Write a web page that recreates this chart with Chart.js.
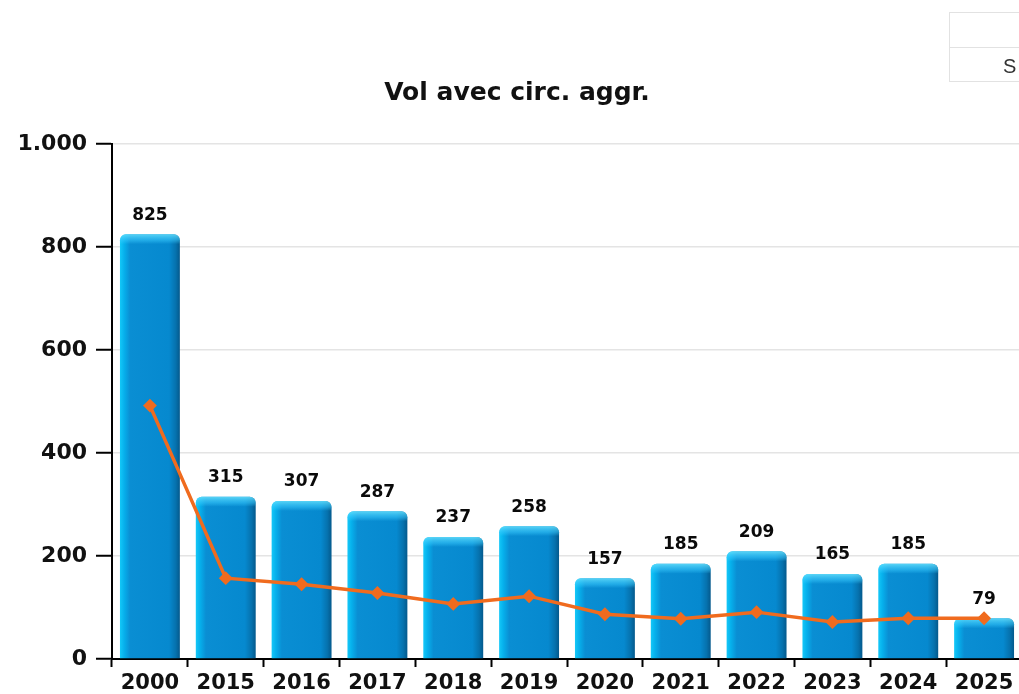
<!DOCTYPE html>
<html>
<head>
<meta charset="utf-8">
<script src="https://cdn.jsdelivr.net/npm/chart.js@4.4.1/dist/chart.umd.min.js"></script>
<style>
  html, body { margin: 0; padding: 0; background: #fff; overflow: hidden; }
  #cadre { position: absolute; left: 0; top: 0; width: 1034px; height: 694px; }
  #boite { position: absolute; left: 949px; top: 12px; width: 200px; border: 1px solid #e2e2e2;
           font-family: "Liberation Sans", Arial, sans-serif; font-size: 20px; color: #333; }
  #boite div { height: 34px; box-sizing: border-box; }
  #boite div + div { border-top: 1px solid #e2e2e2; padding-left: 53px; line-height: 36px; }
</style>
</head>
<body>
<div id="cadre"><canvas id="graficoVol" width="1034" height="694"></canvas></div>
<div id="boite"><div></div><div>S</div></div>
<script>
const annees = ['2000', '2015', '2016', '2017', '2018', '2019', '2020', '2021', '2022', '2023', '2024', '2025']
const nombreVols = [825, 315, 307, 287, 237, 258, 157, 185, 209, 165, 185, 79]
const tendance = [492, 157, 145, 128, 107, 122, 87, 78, 91, 72, 79, 79]
const graduations = [0, 200, 400, 600, 800, 1000]

const police = '"DejaVu Sans", sans-serif'

function degradeBarre(ctx) {
    const chart = ctx.chart
    if (!chart.chartArea) return '#0788cc'
    const echelle = chart.scales.x
    const largeur = (chart.chartArea.width / annees.length) * 0.79
    const x = echelle.getPixelForValue(ctx.dataIndex) - largeur / 2
    const g = chart.ctx.createLinearGradient(x, 0, x + largeur, 0)
    g.addColorStop(0, '#14c8f8')
    g.addColorStop(0.07, '#06b0ec')
    g.addColorStop(0.17, '#0a8ed3')
    g.addColorStop(0.82, '#0689cf')
    g.addColorStop(0.93, '#0672ae')
    g.addColorStop(1, '#04598c')
    return g
}

// reflet clair en haut des barres, puis etiquettes
const decor = {
    id: 'decor',
    afterDatasetDraw(chart, args) {
        if (args.index !== 1) return
        const c = chart.ctx
        c.save()
        args.meta.data.forEach(barre => {
            const w = barre.width
            const x = barre.x - w / 2
            const y = barre.y
            const g = c.createLinearGradient(0, y, 0, y + 10)
            g.addColorStop(0, 'rgba(110,230,255,0.8)')
            g.addColorStop(0.6, 'rgba(60,205,255,0.5)')
            g.addColorStop(1, 'rgba(60,205,255,0)')
            c.fillStyle = g
            c.beginPath()
            c.roundRect(x, y, w, 10, [6, 6, 0, 0])
            c.fill()
        })
        c.restore()
    },
    afterDatasetsDraw(chart) {
        const c = chart.ctx
        const meta = chart.getDatasetMeta(1)
        c.save()
        c.font = 'bold 17px ' + police
        c.fillStyle = '#0a0a0a'
        c.textAlign = 'center'
        c.textBaseline = 'middle'
        meta.data.forEach((barre, i) => {
            c.fillText(String(nombreVols[i]), barre.x, barre.y - 19)
        })
        c.restore()
    }
}

const elementGrafico = document.querySelector('#graficoVol')

const grafico = new Chart(elementGrafico, {
    type: 'bar',
    data: {
        labels: annees,
        datasets: [{
            type: 'line',
            label: 'Tendance',
            data: tendance,
            borderColor: '#f06b1e',
            backgroundColor: '#f06b1e',
            borderWidth: 3.5,
            pointStyle: 'rectRot',
            pointRadius: 4.5,
            tension: 0,
            order: 0
        }, {
            label: 'Vol avec circ. aggr.',
            data: nombreVols,
            backgroundColor: degradeBarre,
            borderRadius: 6,
            borderSkipped: 'start',
            categoryPercentage: 0.79,
            barPercentage: 1,
            order: 1
        }]
    },
    options: {
        responsive: false,
        animation: false,
        layout: { padding: { top: 64, right: 12, left: 12, bottom: 0 } },
        plugins: {
            legend: { display: false },
            tooltip: { enabled: false },
            title: {
                display: true,
                text: 'Vol avec circ. aggr.',
                color: '#111',
                font: { family: police, size: 25, weight: 'bold' },
                padding: { top: 14, bottom: 36 }
            }
        },
        scales: {
            x: {
                grid: { offset: true, drawOnChartArea: false, tickLength: 8, tickColor: '#000', tickWidth: 2 },
                border: { color: '#000', width: 2 },
                ticks: { color: '#111', padding: 4, font: { family: police, size: 21, weight: 'bold' } },
                afterFit: s => { s.height = 35 }
            },
            y: {
                min: 0,
                max: 1000,
                afterBuildTicks: s => { s.ticks = graduations.map(v => ({ value: v })) },
                grid: { color: '#e4e4e4', lineWidth: 1.5, tickLength: 16, tickColor: '#000', tickWidth: 2 },
                border: { color: '#000', width: 2 },
                ticks: {
                    color: '#111',
                    padding: 9,
                    font: { family: police, size: 22, weight: 'bold' },
                    callback: v => v.toLocaleString('de-DE')
                },
                afterFit: s => { s.width = 100 }
            }
        }
    },
    plugins: [decor]
})
</script>
</body>
</html>
